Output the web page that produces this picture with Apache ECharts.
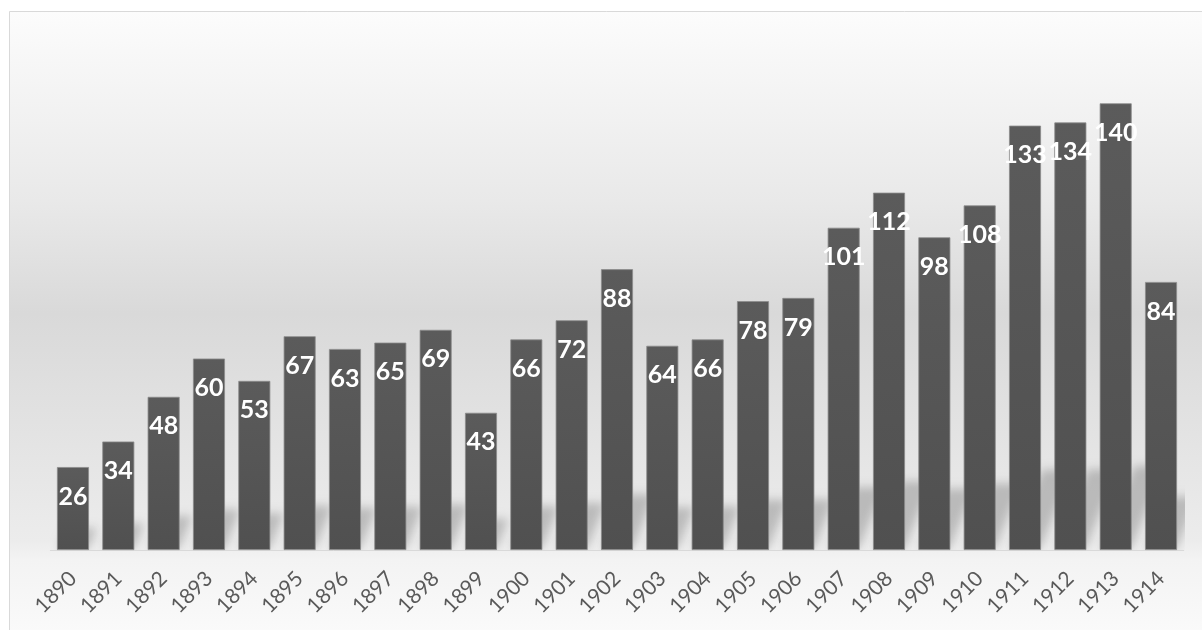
<!DOCTYPE html>
<html>
<head>
<meta charset="utf-8">
<script src="https://cdn.jsdelivr.net/npm/echarts@6/dist/echarts.min.js"></script>
<style>
html,body{margin:0;padding:0;background:#ffffff;}
#chart{width:1202px;height:630px;}
</style>
</head>
<body>
<div id="chart"></div>
<script>
const years = ['1890','1891','1892','1893','1894','1895','1896','1897','1898','1899','1900','1901','1902','1903','1904','1905','1906','1907','1908','1909','1910','1911','1912','1913','1914'];
const counts = [26,34,48,60,53,67,63,65,69,43,66,72,88,64,66,78,79,101,112,98,108,133,134,140,84];

const chart = echarts.init(document.getElementById('chart'), null, {renderer:'canvas'});

const OFF = 3000;
function renderShadow(params, api) {
  const idx = api.value(0);
  const v = api.value(1);
  const base = api.coord([idx, 0]);
  const top = api.coord([idx, v]);
  const h = base[1] - top[1];
  const hw = 15;
  const t = 0.17 * h + 8;
  const s = 0.4 * t;
  const x0 = base[0] - hw, x1 = base[0] + hw, y0 = base[1];
  return {
    type: 'polygon',
    shape: { points: [
      [x0 - OFF, y0], [x1 - OFF, y0], [x1 + s - OFF, y0 - t], [x0 + s - OFF, y0 - t]
    ]},
    style: {
      fill: '#000',
      shadowColor: 'rgba(0,0,0,0.20)',
      shadowBlur: 10,
      shadowOffsetX: OFF,
      shadowOffsetY: 0
    },
    silent: true
  };
}

chart.setOption({
  animation: false,
  backgroundColor: '#ffffff',
  graphic: [{
    type: 'rect',
    z: -10,
    silent: true,
    shape: { x: 9.5, y: 11.5, width: 1200, height: 630 },
    style: {
      stroke: '#d9d9d9',
      lineWidth: 1,
      fill: new echarts.graphic.LinearGradient(0, 0, 0, 1, [
        { offset: 0, color: '#fcfcfc' },
        { offset: 0.3, color: '#e9e9e9' },
        { offset: 0.48, color: '#d9d9d9' },
        { offset: 0.84, color: '#ececec' },
        { offset: 0.87, color: '#f3f3f3' },
        { offset: 1, color: '#fbfbfb' }
      ])
    }
  }],
  grid: { left: 50.3, right: 18.3, top: 39.5, bottom: 80, containLabel: false },
  xAxis: {
    type: 'category',
    data: years,
    axisLine: { show: true, lineStyle: { color: '#d9d9d9', width: 1 } },
    axisTick: { show: false },
    axisLabel: {
      rotate: 45,
      interval: 0,
      margin: 25,
      color: '#595959',
      fontFamily: 'Lato',
      fontSize: 21
    }
  },
  yAxis: {
    type: 'value',
    min: 0,
    max: 160,
    interval: 20,
    show: false,
    splitLine: { show: false }
  },
  series: [
    {
      type: 'custom',
      z: 1,
      clip: true,
      renderItem: renderShadow,
      data: counts.map((v, i) => [i, v])
    },
    {
      type: 'bar',
      z: 2,
      data: counts,
      barWidth: 32,
      itemStyle: {
        color: new echarts.graphic.LinearGradient(0, 0, 0, 1, [
          { offset: 0, color: '#5b5b5b' },
          { offset: 1, color: '#505050' }
        ]),
        borderColor: '#8c8c8c',
        borderWidth: 0.8
      },
      label: {
        show: true,
        position: 'insideTop',
        distance: 17,
        color: '#ffffff',
        fontFamily: 'Lato',
        fontWeight: 'bold',
        fontSize: 25
      }
    }
  ]
});
</script>
</body>
</html>
